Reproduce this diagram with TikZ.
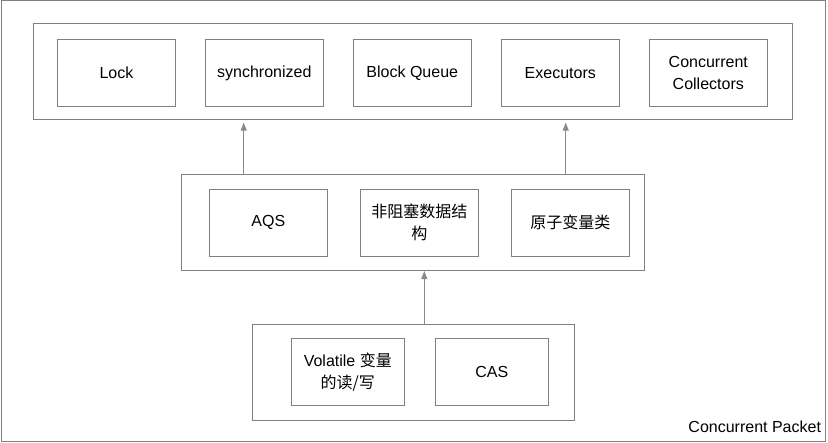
\documentclass[tikz,border=0pt]{standalone}
\usepackage{fontspec}
\setmainfont{Liberation Sans}
\newfontfamily\cjk{Noto Sans CJK SC}
\usetikzlibrary{arrows.meta}
\definecolor{edge}{HTML}{808080}
\definecolor{arrowc}{HTML}{8A8A8A}
\begin{document}
\begin{tikzpicture}[x=1pt,y=-1pt,
  every node/.style={font=\fontsize{16}{22}\selectfont, inner sep=0pt, outer sep=0pt},
  container/.style={draw=edge, line width=1pt},
  itembox/.style={draw=edge, line width=1pt, minimum width=118pt, minimum height=67pt, align=center},
  lowbox/.style={itembox, minimum width=113pt},
  arr/.style={draw=arrowc, line width=1pt, -{Triangle[length=8pt,width=6pt]}}
]
\useasboundingbox (0,0) rectangle (828,443);
\node[draw=edge, line width=1pt, minimum width=824pt, minimum height=441pt] (outer) at (413,221.5) {};
% top layer
\node[container, minimum width=759pt, minimum height=95.7pt] (topc) at (412.8,71.2) {};
\node[itembox] (lock) at (116.5,73) {Lock};
\node[itembox] (sync) at (264.3,73) {synchronized};
\node[itembox] (bq) at (412.3,73) {Block Queue};
\node[itembox] (exec) at (560.3,73) {Executors};
\node[itembox] (cc) at (708.3,73) {Concurrent\\Collectors};
% middle layer
\node[container, minimum width=463pt, minimum height=95.7pt] (midc) at (412.8,222.2) {};
\node[itembox] (aqs) at (268.3,222.8) {AQS};
\node[itembox] (nbds) at (419.3,222.8) {\cjk 非阻塞数据结\\\cjk 构};
\node[itembox] (atom) at (570.3,222.8) {\cjk 原子变量类};
% bottom layer
\node[container, minimum width=322pt, minimum height=96pt] (botc) at (413.3,373) {};
\node[lowbox] (vol) at (347.8,371.8) {Volatile {\cjk 变量}\\{\cjk 的读/写}};
\node[lowbox] (cas) at (491.8,371.8) {CAS};
% arrows
\coordinate (a1) at (243.7,150);
\coordinate (a2) at (565.7,150);
\coordinate (a3) at (424.3,300);
\draw[arr, shorten >=3.5pt] (midc.north -| a1) -- (topc.south -| a1);
\draw[arr, shorten >=3.5pt] (midc.north -| a2) -- (topc.south -| a2);
\draw[arr, shorten >=1pt] (botc.north -| a3) -- (midc.south -| a3);
% label
\node[anchor=east] (lbl) at (821,427) {Concurrent Packet};
\end{tikzpicture}
\end{document}
